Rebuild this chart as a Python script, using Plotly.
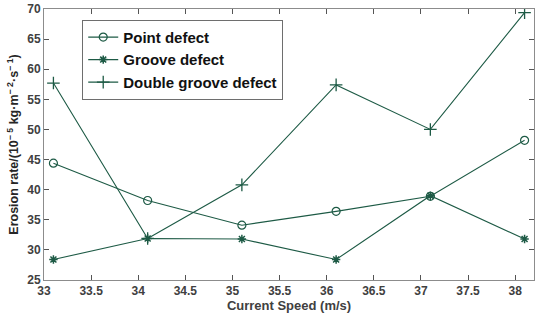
import plotly.graph_objects as go

speed = [33.1, 34.1, 35.1, 36.1, 37.1, 38.1]
point_defect = [44.4, 38.2, 34.1, 36.4, 38.9, 48.2]
groove_defect = [28.4, 31.9, 31.8, 28.4, 39.0, 31.8]
double_groove_defect = [57.7, 31.9, 40.8, 57.4, 50.0, 69.4]
x_ticks = [33, 33.5, 34, 34.5, 35, 35.5, 36, 36.5, 37, 37.5, 38]
y_ticks = [25, 30, 35, 40, 45, 50, 55, 60, 65, 70]

color = "#1d5a45"
fig = go.Figure()
fig.add_trace(go.Scatter(x=speed, y=point_defect, mode="lines+markers", name="Point defect",
                         line=dict(color=color, width=1.1),
                         marker=dict(symbol="circle-open", size=8, color=color, line=dict(width=1.2))))
fig.add_trace(go.Scatter(x=speed, y=groove_defect, mode="lines+markers", name="Groove defect",
                         line=dict(color=color, width=1.1),
                         marker=dict(symbol="asterisk-open", size=7, color=color, line=dict(width=1.5))))
fig.add_trace(go.Scatter(x=speed, y=double_groove_defect, mode="lines+markers", name="Double groove defect",
                         line=dict(color=color, width=1.1),
                         marker=dict(symbol="cross-thin-open", size=9, color=color, line=dict(width=1.3))))

axis_common = dict(showgrid=False, zeroline=False, showline=True, linecolor="#8c8c8c", linewidth=1,
                   mirror="ticks", ticks="inside", ticklen=5, tickcolor="#555555", automargin=False,
                   tickfont=dict(family="Liberation Sans, Arial", size=12, color="#404040", weight="bold"))
fig.update_xaxes(range=[33, 38.2], tickvals=x_ticks, ticktext=[f"{v:g}" for v in x_ticks],
                 title=dict(text="Current Speed (m/s)", standoff=2,
                            font=dict(family="Liberation Sans, Arial", size=13, color="#404040", weight="bold")),
                 **axis_common)
fig.update_yaxes(range=[25, 70], tickvals=y_ticks,
                 title=dict(text="Erosion rate/(10<sup>− 5</sup> kg·m<sup>− 2</sup>·s<sup>− 1</sup>)", standoff=5,
                            font=dict(family="Liberation Sans, Arial", size=12.5, color="#262626", weight="bold")),
                 **axis_common)
fig.update_layout(width=550, height=320, margin=dict(l=44, r=16, t=9, b=40),
                  plot_bgcolor="white", paper_bgcolor="white", showlegend=True,
                  legend=dict(x=0.078, y=0.96, xanchor="left", yanchor="top",
                              bgcolor="white", bordercolor="#6e6e6e", borderwidth=1,
                              font=dict(family="Liberation Sans, Arial", size=15, color="#111111", weight="bold"),
                              tracegroupgap=0, itemwidth=30))
fig.write_html("out.html", config={"displayModeBar": False},
               post_script="document.body.style.margin='0';")
